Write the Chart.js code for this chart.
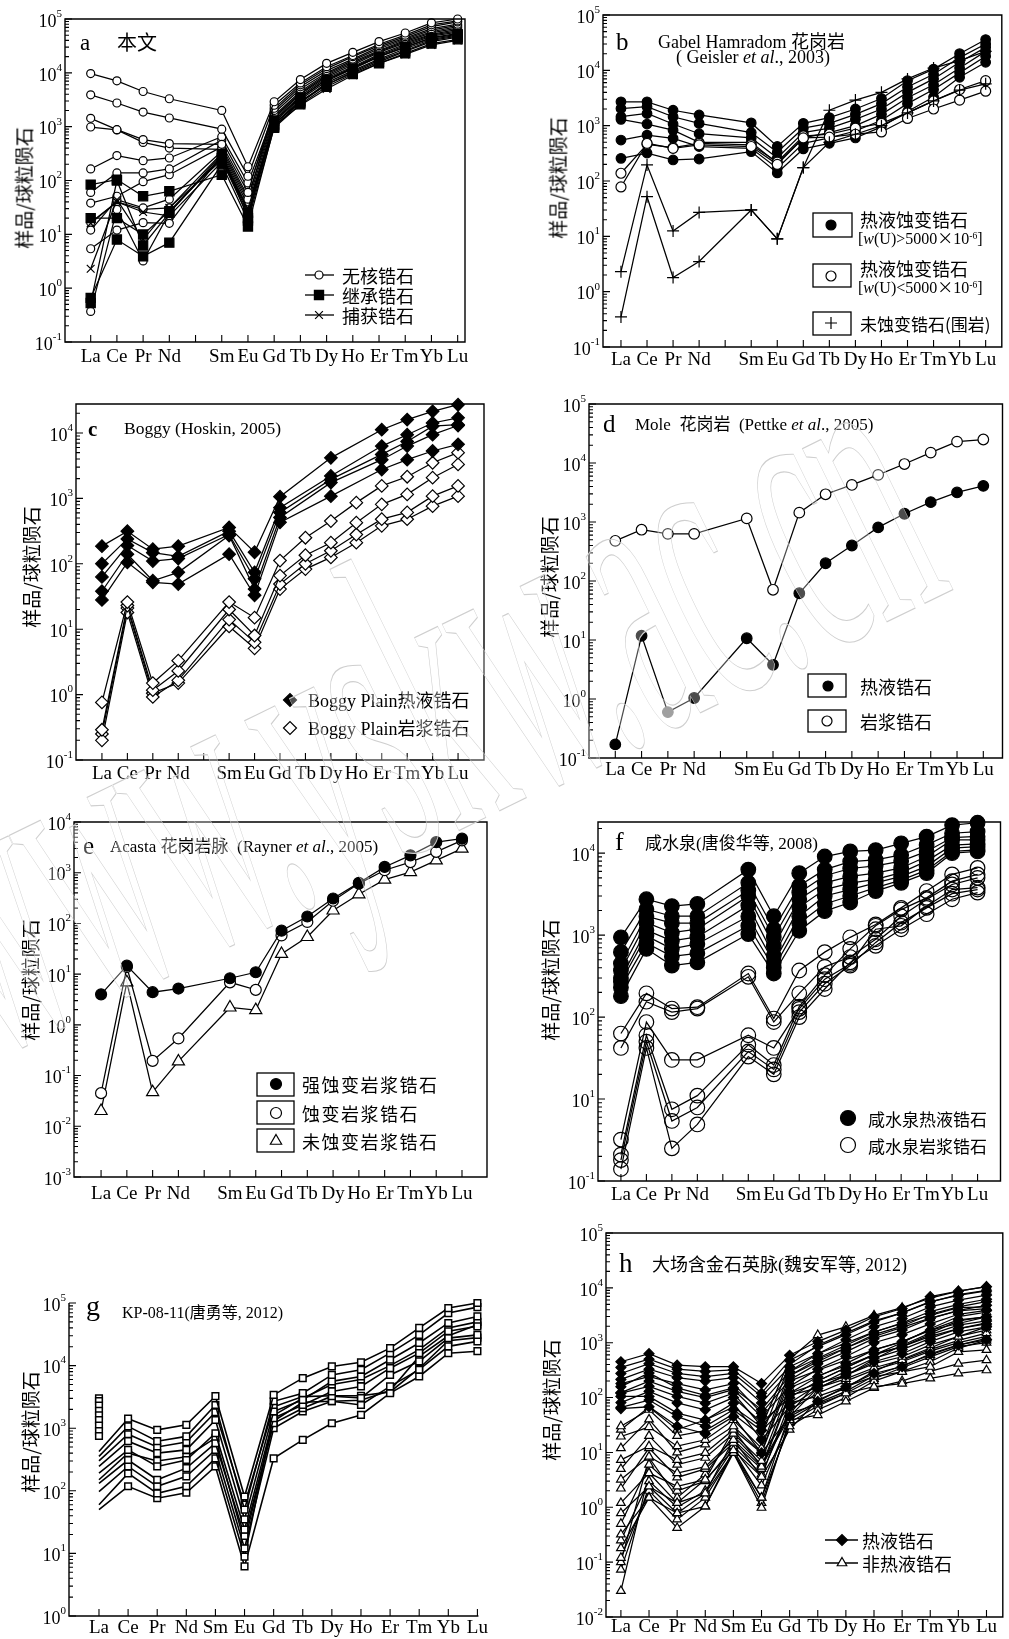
<!DOCTYPE html>
<html>
<head>
<meta charset="utf-8">
<script src="https://cdn.jsdelivr.net/npm/chart.js@4.4.1/dist/chart.umd.min.js"></script>
<style>
body{margin:0;background:#fff;width:1009px;height:1639px;position:relative;overflow:hidden;font-family:"Liberation Serif","Noto Sans CJK SC",serif;color:#000}
canvas{position:absolute}
.t{position:absolute;white-space:nowrap;line-height:1;transform:translateY(-50%)}
.cn{font-family:"Noto Sans CJK SC",sans-serif}
.yt{position:absolute;white-space:nowrap;line-height:1;font-family:"Noto Sans CJK SC",sans-serif;font-size:19px;transform:translate(-50%,-50%) rotate(-90deg)}
sup{font-size:60%;vertical-align:0.5em;line-height:0}
#wm{position:absolute;left:0;top:706px;font-size:420px;line-height:1;font-family:"Liberation Serif";white-space:nowrap;color:rgba(255,255,255,0.3);-webkit-text-stroke:1.2px #cfcfcf;transform-origin:0 374px;transform:rotate(-26deg) scaleX(0.38);pointer-events:none}
</style>
</head>
<body>

<!-- panel titles -->
<div class="t" style="left:80px;top:42px;font-size:23px">a</div>
<div class="t cn" style="left:117px;top:42px;font-size:20px">本文</div>
<div class="t" style="left:616px;top:41px;font-size:25px">b</div>
<div class="t" style="left:658px;top:41px;font-size:18px">Gabel Hamradom <span class="cn">花岗岩</span></div>
<div class="t" style="left:676px;top:57px;font-size:18px">( Geisler <i>et al</i>., 2003)</div>
<div class="t" style="left:88px;top:429px;font-size:21px;font-weight:bold">c</div>
<div class="t" style="left:124px;top:429px;font-size:17.5px">Boggy (Hoskin, 2005)</div>
<div class="t" style="left:603px;top:423px;font-size:25px">d</div>
<div class="t" style="left:635px;top:423px;font-size:17px">Mole&nbsp; <span class="cn">花岗岩</span>&nbsp; (Pettke <i>et al</i>., 2005)</div>
<div class="t" style="left:83px;top:845px;font-size:25px">e</div>
<div class="t" style="left:110px;top:845px;font-size:17px">Acasta <span class="cn">花岗岩脉</span>&nbsp; (Rayner <i>et al</i>., 2005)</div>
<div class="t" style="left:615px;top:842px;font-size:26px">f</div>
<div class="t" style="left:645px;top:842px;font-size:17px"><span class="cn">咸水泉</span>(<span class="cn">唐俊华等</span>, 2008)</div>
<div class="t" style="left:86px;top:1306px;font-size:28px">g</div>
<div class="t" style="left:122px;top:1312px;font-size:16px">KP-08-11(<span class="cn">唐勇等</span>, 2012)</div>
<div class="t" style="left:619px;top:1263px;font-size:27px">h</div>
<div class="t" style="left:652px;top:1264px;font-size:18px"><span class="cn">大场含金石英脉</span>(<span class="cn">魏安军等</span>, 2012)</div>

<!-- y axis titles -->
<div class="yt" style="left:23px;top:188px">样品/球粒陨石</div>
<div class="yt" style="left:557px;top:178px">样品/球粒陨石</div>
<div class="yt" style="left:30px;top:567px">样品/球粒陨石</div>
<div class="yt" style="left:548px;top:577px">样品/球粒陨石</div>
<div class="yt" style="left:29px;top:980px">样品/球粒陨石</div>
<div class="yt" style="left:549px;top:980px">样品/球粒陨石</div>
<div class="yt" style="left:29px;top:1432px">样品/球粒陨石</div>
<div class="yt" style="left:550px;top:1400px">样品/球粒陨石</div>

<!-- legend texts -->
<div class="t cn" style="left:342px;top:275px;font-size:18px">无核锆石</div>
<div class="t cn" style="left:342px;top:295px;font-size:18px">继承锆石</div>
<div class="t cn" style="left:342px;top:315px;font-size:18px">捕获锆石</div>

<div class="t cn" style="left:860px;top:219px;font-size:18px">热液蚀变锆石</div>
<div class="t" style="left:858px;top:238px;font-size:16px">[<i>w</i>(U)&gt;5000<span class="cn">×</span>10<sup>-6</sup>]</div>
<div class="t cn" style="left:860px;top:268px;font-size:18px">热液蚀变锆石</div>
<div class="t" style="left:858px;top:287px;font-size:16px">[<i>w</i>(U)&lt;5000<span class="cn">×</span>10<sup>-6</sup>]</div>
<div class="t cn" style="left:860px;top:323px;font-size:17px">未蚀变锆石(围岩)</div>

<div class="t" style="left:308px;top:700px;font-size:18px">Boggy Plain<span class="cn">热液锆石</span></div>
<div class="t" style="left:308px;top:728px;font-size:18px">Boggy Plain<span class="cn">岩浆锆石</span></div>

<div class="t cn" style="left:860px;top:686px;font-size:18px">热液锆石</div>
<div class="t cn" style="left:860px;top:721px;font-size:18px">岩浆锆石</div>

<div class="t cn" style="left:302px;top:1084px;font-size:18px;letter-spacing:1.5px">强蚀变岩浆锆石</div>
<div class="t cn" style="left:302px;top:1113px;font-size:18px;letter-spacing:1.5px">蚀变岩浆锆石</div>
<div class="t cn" style="left:302px;top:1141px;font-size:18px;letter-spacing:1.5px">未蚀变岩浆锆石</div>

<div class="t cn" style="left:868px;top:1118px;font-size:17px">咸水泉热液锆石</div>
<div class="t cn" style="left:868px;top:1145px;font-size:17px">咸水泉岩浆锆石</div>

<div class="t cn" style="left:862px;top:1540px;font-size:18px">热液锆石</div>
<div class="t cn" style="left:862px;top:1563px;font-size:18px">非热液锆石</div>

<div id="wm">www.yskw.ac.cn</div>

<script>
// element labels, '' marks the Pm gap
const ree15 = ['La', 'Ce', 'Pr', 'Nd', '', 'Sm', 'Eu', 'Gd', 'Tb', 'Dy', 'Ho', 'Er', 'Tm', 'Yb', 'Lu'];
const ree14 = ['La', 'Ce', 'Pr', 'Nd', 'Sm', 'Eu', 'Gd', 'Tb', 'Dy', 'Ho', 'Er', 'Tm', 'Yb', 'Lu'];

// y tick values and exponent labels
const yTicksA = [0.1, 1, 10, 100, 1000, 10000, 100000];
const yExpA = ['-1', '0', '1', '2', '3', '4', '5'];
const yTicksC = [0.1, 1, 10, 100, 1000, 10000];
const yExpC = ['-1', '0', '1', '2', '3', '4'];
const yTicksE = [0.001, 0.01, 0.1, 1, 10, 100, 1000, 10000];
const yExpE = ['-3', '-2', '-1', '0', '1', '2', '3', '4'];
const yTicksF = [1, 10, 100, 1000, 10000];
const yExpF = ['-1', '1', '2', '3', '4'];
const yTicksG = [1, 10, 100, 1000, 10000, 100000];
const yExpG = ['0', '1', '2', '3', '4', '5'];
const yTicksH = [0.01, 0.1, 1, 10, 100, 1000, 10000, 100000];
const yExpH = ['-2', '-1', '0', '1', '2', '3', '4', '5'];

// a - 本文
const aCoreless = [
    [9700, 7100, 4500, 3300, null, 2000, 180, 2900, 7500, 15000, 24000, 38000, 55000, 85000, 100000],
    [3900, 2750, 1870, 1450, null, 900, 120, 2500, 6500, 13000, 21000, 34000, 50000, 78000, 92000],
    [1430, 880, 575, 485, null, 470, 60, 2200, 6000, 12000, 20000, 32000, 47000, 72000, 88000],
    [985, 870, 510, 400, null, 380, 45, 2000, 5500, 11000, 18000, 30000, 44000, 66000, 80000],
    [164, 290, 233, 262, null, 650, 90, 1800, 5000, 10000, 17000, 28000, 42000, 62000, 76000],
    [60, 138, 138, 164, null, 560, 70, 1600, 4500, 9500, 16000, 26000, 40000, 58000, 72000],
    [38, 51, 95, 128, null, 420, 50, 1500, 4200, 9000, 15000, 25000, 38000, 55000, 68000],
    [12, 44, 31, 45, null, 350, 40, 1400, 4000, 8500, 14000, 24000, 36000, 52000, 64000],
    [5.4, 12, 16.5, 16, null, 300, 30, 1300, 3700, 8000, 13000, 22000, 34000, 50000, 60000],
    [0.37, 29, 3.2, 25, null, 280, 28, 1200, 3400, 7500, 12500, 21000, 32000, 48000, 57000],
    [16.6, 40, 29, 31, null, 320, 35, 1100, 3200, 7000, 12000, 20000, 30000, 45000, 54000]
];
const aInherited = [
    [84, 104, 51, 63, null, 128, 14, 1000, 2800, 6500, 11000, 18000, 28000, 42000, 50000],
    [20, 20, 9.9, 27, null, 260, 25, 1100, 3000, 6000, 10000, 16000, 25000, 38000, 46000],
    [0.66, 8, 3.9, 7, null, 200, 18, 950, 2600, 5500, 9500, 15000, 23000, 35000, 42000],
    [0.53, 100, 6.2, 25, null, 310, 20, 1300, 3500, 7500, 12000, 20000, 30000, 44000, 52000]
];
const aCaptured = [
    [2.3, 44, 8, 31, null, 240, 22, 1050, 2500, 5000, 9000, 15000, 22000, 33000, 40000],
    [16, 40, 26, 22, null, 220, 30, 1150, 2800, 6000, 10500, 17000, 26000, 40000, 48000]
];

// b - Gabel Hamradom
const bHighU = [
    [2700, 2700, 1900, 1560, null, 1120, 420, 1100, 1400, 2000, 3100, 6500, 10500, 20000, 36000],
    [2040, 2200, 1450, 1100, null, 750, 330, 900, 1100, 1600, 2500, 5000, 8500, 17000, 30000],
    [1450, 1660, 1070, 715, null, 600, 260, 750, 900, 1300, 2000, 4000, 7000, 14000, 26000],
    [1300, 1070, 830, 500, null, 500, 210, 600, 750, 1000, 1600, 3200, 5500, 11000, 22000],
    [550, 675, 590, 420, null, 390, 170, 480, 600, 800, 1250, 2500, 4500, 9000, 18000],
    [257, 320, 240, 250, null, 340, 140, 380, 480, 600, 950, 1800, 3300, 7500, 14000]
];
const bLowU = [
    [78, 480, 390, 450, null, 420, 200, 600, 620, 700, 770, 1350, 2000, 2900, 4200],
    [138, 460, 400, 480, null, 450, 220, 650, 700, 900, 1100, 1700, 2800, 4500, 6500]
];
const bUnaltered = [
    [2.3, 195, 12.5, 27, null, 30, 9, 175, 1900, 2900, 4000, 7000, 11000, 15000, 22000],
    [0.35, 52, 1.8, 3.5, null, 30, 9, 175, 500, 700, 1000, 1700, 2800, 4400, 5700]
];

// c - Boggy Plain (no Tb, Ho for hydrothermal)
const cHydro = [
    [186, 315, 167, 186, null, 360, 150, 1060, null, 4160, null, 11200, 16000, 21400, 27000],
    [100, 240, 148, 130, null, 315, 74, 720, null, 2200, null, 6300, 9400, 14200, 17000],
    [63, 190, 110, 120, null, 280, 59, 610, null, 1950, null, 4700, 7400, 12700, 13400],
    [38, 140, 55, 74, null, 270, 41, 510, null, 1740, null, 3900, 6300, 9400, 13000],
    [28, 105, 52, 49, null, 140, 33, 430, null, 1080, null, 2760, 3900, 5300, 6700]
];
const cMagma = [
    [0.76, 26, 1.5, 3.3, null, 26, 15, 112, 250, 450, 860, 1550, 2140, 3500, 5000],
    [0.29, 23, 1.17, 2.3, null, 20, 8, 66, 135, 210, 425, 810, 1150, 2070, 3300],
    [0.2, 18, 0.92, 1.65, null, 14, 6.3, 49, 100, 158, 280, 480, 610, 1080, 1550],
    [0.25, 21, 1.05, 1.5, null, 11, 5.1, 41, 83, 125, 210, 380, 480, 760, 1080]
];

// d - Mole granite
const dHydro = [0.17, 11.8, 0.6, 1.04, null, 10.7, 3.8, 62, 200, 400, 810, 1380, 2170, 3170, 4100];
const dMagma = [480, 740, 630, 630, null, 1150, 71, 1440, 2950, 4250, 6300, 9600, 15000, 23000, 25000];

// e - Acasta
const eStrong = [4.0, 14.7, 4.4, 5.2, null, 8.3, 10.9, 72, 137, 310, 630, 1300, 2200, 4000, 4700];
const eAltered = [0.045, 13.8, 0.195, 0.54, null, 6.9, 4.9, 58, 107, 280, 610, 1120, 1620, 2580, 4350];
const eFresh = [0.02, 6.9, 0.047, 0.19, null, 2.2, 1.95, 25, 54, 180, 375, 730, 1030, 1750, 2980];

// f - 咸水泉
const fHydro = [
    [940, 2740, 2260, 2400, null, 6300, 1700, 5700, 9100, 10500, 10900, 13200, 15900, 22000, 23500],
    [620, 2070, 1700, 1700, null, 4350, 1180, 4000, 6300, 7900, 8300, 9500, 12600, 17500, 18300],
    [450, 1700, 1400, 1400, null, 3500, 950, 3300, 5300, 6500, 7000, 8000, 10500, 15500, 16000],
    [370, 1420, 1070, 1180, null, 3000, 740, 2740, 4350, 5200, 5700, 6600, 9100, 14500, 14500],
    [300, 1150, 850, 950, null, 2300, 560, 2200, 3600, 4300, 4800, 5800, 8000, 12500, 13000],
    [270, 980, 680, 780, null, 1700, 465, 1700, 3000, 3600, 4350, 5200, 6900, 11500, 12000],
    [230, 800, 550, 600, null, 1300, 400, 1400, 2400, 3000, 3800, 4700, 6200, 10500, 11000],
    [180, 680, 425, 465, null, 1030, 340, 1130, 1960, 2500, 3450, 4350, 5700, 10000, 10500]
];
const fMagma = [
    [63, 195, 127, 132, null, 340, 96, 370, 620, 940, 1350, 2150, 3450, 5500, 6600],
    [42, 154, 115, 127, null, 310, 87, 195, 410, 540, 890, 1700, 2740, 4150, 5000],
    [3.2, 87, 30, 30, null, 60, 42, 126, 290, 445, 1180, 1300, 2250, 3600, 3800],
    [2.1, 60, 7.5, 11, null, 46, 26, 134, 325, 680, 1300, 2050, 2850, 4550, 5500],
    [1.8, 50, 5.4, 7.9, null, 38, 23, 115, 255, 425, 815, 1420, 2150, 3200, 3600],
    [1.4, 42, 2.5, 4.9, null, 33, 20, 100, 220, 465, 740, 1180, 1800, 2740, 3300]
];

// g - KP-08-11
const gSamples = [
    [425, 1420, 940, 1130, 3250, 81, 3400, 6300, 9700, 11300, 19000, 40000, 83000, 100000],
    [355, 1070, 620, 740, 2350, 50, 2690, 3630, 7100, 8600, 15800, 31000, 69000, 86000],
    [245, 620, 400, 450, 1350, 35, 1850, 2840, 5600, 6700, 12400, 23000, 48000, 61000],
    [192, 450, 245, 310, 830, 24, 1450, 2350, 3870, 4650, 9100, 15800, 35400, 42400],
    [131, 310, 150, 230, 575, 19, 1200, 2080, 3250, 3040, 7100, 11700, 27500, 31000],
    [97, 245, 118, 170, 450, 12, 1000, 1850, 2690, 2350, 4650, 8600, 20300, 24400],
    [60, 190, 91, 118, 330, 8.9, 1600, 3000, 5000, 6000, 10000, 18000, 40000, 50000],
    [50, 118, 76, 93, 245, 6.2, 330, 650, 1200, 1630, 3630, 6700, 15800, 17000],
    [300, 800, 500, 600, 1800, 60, 2200, 3200, 3300, 3300, 3800, 9000, 25000, 28000],
    [150, 400, 300, 350, 700, 15, 1300, 2600, 2700, 2800, 4000, 14000, 30000, 45000]
];
const gLaMarks = [3000, 2700, 2300, 1900, 1600, 1350, 1100, 900, 750];

// h - 大场
const hHydro = [
    [450, 630, 390, 365, 365, 180, 590, 1050, 1700, 2970, 4200, 6900, 8700, 10500],
    [355, 500, 330, 300, 320, 120, 480, 850, 1400, 2400, 3500, 5600, 7300, 8800],
    [275, 415, 275, 240, 275, 105, 365, 630, 1130, 1950, 2760, 4500, 6000, 7400],
    [214, 330, 230, 200, 230, 80, 300, 520, 900, 1550, 2300, 3700, 5000, 6200],
    [180, 240, 180, 138, 180, 52, 210, 415, 680, 1200, 1700, 2760, 3900, 4800],
    [158, 280, 150, 110, 150, 60, 250, 450, 800, 1400, 2000, 3300, 4500, 5600],
    [123, 200, 130, 100, 140, 45, 160, 330, 560, 1000, 1400, 2200, 3300, 3900],
    [120, 160, 105, 79, 120, 30, 120, 240, 415, 740, 1050, 1700, 2600, 2970],
    [105, 105, 52, 39, 79, 17, 68, 148, 257, 450, 630, 1050, 1580, 1950],
    [81, 130, 80, 60, 100, 35, 100, 200, 350, 620, 850, 1400, 2100, 2500],
    [66, 90, 45, 30, 60, 25, 80, 170, 300, 520, 750, 1200, 1800, 2200],
    [63, 68, 30, 22, 45, 9.8, 45, 85, 158, 275, 365, 630, 910, 1130]
];
const hOther = [
    [30, 60, 20, 25, 50, 20, 400, 900, 1500, 2500, 3500, 5500, 7500, 9000],
    [26, 67, 26, 39, 67, 29, 500, 1380, 1950, 3150, 4350, 6500, 8700, 10500],
    [19.5, 29, 13, 17, 39, 12, 300, 630, 980, 1580, 2240, 3150, 4350, 4500],
    [12, 40, 10, 14, 30, 10, 250, 500, 800, 1300, 1900, 2800, 3800, 4200],
    [7.3, 13, 7.3, 9.8, 26, 9.8, 200, 315, 480, 740, 1050, 1700, 2240, 2970],
    [5, 20, 6, 8, 22, 7, 150, 250, 380, 600, 850, 1300, 1800, 2300],
    [3.2, 8.4, 4.2, 5.5, 17, 5.5, 120, 180, 257, 415, 555, 910, 1290, 1950],
    [2.2, 12, 3.5, 5, 15, 5, 110, 150, 220, 350, 480, 750, 1100, 1500],
    [1.2, 4.2, 2.4, 3.2, 11, 3.6, 80, 105, 158, 240, 295, 365, 680, 740],
    [0.78, 2.4, 1.2, 1.8, 9.8, 1.5, 52, 75, 120, 158, 180, 224, 275, 315],
    [0.5, 6, 2, 3, 13, 4, 60, 120, 200, 320, 450, 700, 1000, 1300],
    [0.32, 1.5, 0.78, 1.04, 9.8, 0.98, 39, 48, 85, 150, 200, 300, 415, 480],
    [0.25, 3, 1.0, 2, 12, 2.5, 40, 80, 130, 250, 380, 600, 900, 1200],
    [0.18, 1.5, 0.42, 1.04, 11, 1.5, 30, 60, 100, 200, 300, 450, 800, 1100],
    [0.12, 2, 0.6, 1.5, 10, 1.2, 35, 70, 120, 220, 350, 550, 850, 1000],
    [0.1, 8, 1.5, 4, 20, 6, 50, 200, 350, 600, 1000, 1800, 3000, 3600],
    [0.073, 2.4, 0.78, 1.8, 17, 3.6, 26, 90, 150, 300, 500, 800, 1300, 1700],
    [0.03, 4.2, 1.2, 3.2, 26, 5.5, 45, 150, 250, 500, 900, 1500, 2500, 3000]
];

function series(rows, style, r, filled, extra) {
    return rows.map(function (vals) {
        return Object.assign({
            data: vals.map(function (v, i) { return {x: i, y: v}; }).filter(function (p) { return p.y != null; }),
            borderColor: '#000',
            borderWidth: 1.25,
            pointStyle: style,
            pointRadius: r,
            pointBackgroundColor: filled ? '#000' : '#fff',
            pointBorderColor: '#000',
            pointBorderWidth: 1.2,
            tension: 0,
            fill: false,
            clip: false
        }, extra || {});
    });
}

// rect = canvas [x, y, w, h], box = plot area [left, top, right, bottom], page pixels
var panels = [
    {id: 'a', rect: [0, 0, 505, 375], box: [65, 19, 465, 342], xr: [-0.98, 14.28], yr: [0.1, 1e5],
        cats: ree15, yv: yTicksA, ye: yExpA, frame: true, lab: 15,
        syms: [{x: 319, y: 275, s: 'circle', r: 4, f: false, line: [305, 334]},
            {x: 319, y: 295, s: 'rect', r: 6.5, f: true, line: [305, 334]},
            {x: 319, y: 315, s: 'crossRot', r: 5.5, line: [305, 334]}],
        sets: [].concat(series(aCaptured, 'crossRot', 5.5, false),
            series(aInherited, 'rect', 6.5, true),
            series(aCoreless, 'circle', 4, false))},
    {id: 'b', rect: [505, 0, 504, 375], box: [603, 15, 1003, 347], xr: [-0.69, 14.62], yr: [0.1, 1e5],
        cats: ree15, yv: yTicksA, ye: yExpA, frame: true, lab: 13,
        syms: [{x: 831, y: 225, s: 'circle', r: 5, f: true, box: [813, 213, 852, 237]},
            {x: 831, y: 276, s: 'circle', r: 5, f: false, box: [813, 264, 851, 287]},
            {x: 831, y: 323, s: 'cross', r: 6, box: [813, 312, 851, 335]}],
        sets: [].concat(series(bUnaltered, 'cross', 6, false),
            series(bLowU, 'circle', 5, false),
            series(bHighU, 'circle', 4.8, true))},
    {id: 'c', rect: [0, 375, 505, 410], box: [76, 404, 484, 760], xr: [-1.02, 15.02], yr: [0.1, 27700],
        cats: ree15, yv: yTicksC, ye: yExpC, frame: true, lab: 14,
        syms: [{x: 290, y: 700, s: 'rectRot', r: 6.5, f: true},
            {x: 290, y: 728, s: 'rectRot', r: 6.5, f: false}],
        sets: [].concat(series(cHydro, 'rectRot', 6.3, true),
            series(cMagma, 'rectRot', 6.3, false))},
    {id: 'd', rect: [505, 375, 504, 410], box: [589, 404, 1005, 758], xr: [-1.0, 14.73], yr: [0.1, 1e5],
        cats: ree15, yv: yTicksA, ye: yExpA, frame: true, lab: 12,
        syms: [{x: 828, y: 686, s: 'circle', r: 5, f: true, box: [808, 674, 846, 697]},
            {x: 827, y: 721, s: 'circle', r: 5, f: false, box: [808, 710, 846, 732]}],
        sets: [].concat(series([dHydro], 'circle', 5.3, true, {
            pointBackgroundColor: function (c) { return c.dataIndex === 2 ? '#777' : '#000'; },
            pointBorderColor: function (c) { return c.dataIndex === 2 ? '#777' : '#000'; }
        }), series([dMagma], 'circle', 5.3, false))},
    {id: 'e', rect: [0, 785, 505, 430], box: [74, 822, 487, 1177], xr: [-1.05, 14.97], yr: [0.001, 1e4],
        cats: ree15, yv: yTicksE, ye: yExpE, frame: true, lab: 17,
        syms: [{x: 276, y: 1084, s: 'circle', r: 5.5, f: true, box: [257, 1073, 294, 1096]},
            {x: 276, y: 1113, s: 'circle', r: 5.5, f: false, box: [257, 1101, 294, 1124]},
            {x: 276, y: 1141, s: 'triangle', r: 6.5, f: false, box: [257, 1129, 294, 1152]}],
        sets: [].concat(series([eStrong], 'circle', 5.5, true),
            series([eAltered], 'circle', 5.5, false),
            series([eFresh], 'triangle', 7, false))},
    {id: 'f', rect: [505, 785, 504, 430], box: [598, 822, 1003, 1181], xr: [-0.9, 14.9], yr: [1, 24000],
        cats: ree15, yv: yTicksF, ye: yExpF, frame: true, lab: 14,
        syms: [{x: 848, y: 1118, s: 'circle', r: 7.5, f: true},
            {x: 848, y: 1145, s: 'circle', r: 7.5, f: false}],
        sets: [].concat(series(fHydro, 'circle', 7.3, true),
            series(fMagma, 'circle', 7.3, false, {pointBackgroundColor: 'rgba(255,255,255,0)'}))},
    {id: 'g', rect: [0, 1215, 505, 424], box: [69, 1303, 478, 1616], xr: [-1.03, 13.02], yr: [1, 1e5],
        cats: ree14, yv: yTicksG, ye: yExpG, frame: false, lab: 12,
        syms: [],
        sets: [].concat(series(gSamples, 'rect', 4.7, false, {
            borderWidth: 1.6,
            pointBorderWidth: 1.5,
            pointRadius: function (c) { return c.dataIndex === 0 ? 0 : 4.7; }
        }), [{
            data: gLaMarks.map(function (v) { return {x: 0, y: v}; }),
            showLine: false, pointStyle: 'rect', pointRadius: 4.7,
            pointBackgroundColor: '#fff', pointBorderColor: '#000', pointBorderWidth: 1.5, clip: false
        }])},
    {id: 'h', rect: [505, 1215, 504, 424], box: [606, 1233, 1004, 1617], xr: [-0.53, 13.58], yr: [0.01, 1e5],
        cats: ree14, yv: yTicksH, ye: yExpH, frame: true, lab: 10,
        syms: [{x: 842, y: 1540, s: 'rectRot', r: 5.5, f: true, line: [825, 858]},
            {x: 842, y: 1563, s: 'triangle', r: 5.5, f: false, line: [825, 858]}],
        sets: [].concat(series(hHydro, 'rectRot', 5, true),
            series(hOther, 'triangle', 5, false))}
];

var panelById = {};

// frame, inward ticks, tick labels and legend symbols
var axesPlugin = {
    id: 'axesPlugin',
    afterDraw: function (chart) {
        var p = panelById[chart.canvas.id];
        var ctx = chart.ctx, a = chart.chartArea, xs = chart.scales.x, ys = chart.scales.y;
        ctx.save();
        ctx.strokeStyle = '#000';
        ctx.fillStyle = '#000';
        ctx.lineWidth = 1.4;
        ctx.beginPath();
        if (p.frame) {
            ctx.rect(a.left, a.top, a.right - a.left, a.bottom - a.top);
        } else {
            ctx.moveTo(a.left, a.top);
            ctx.lineTo(a.left, a.bottom);
            ctx.lineTo(xs.getPixelForValue(p.cats.length - 1) + 1, a.bottom);
        }
        ctx.stroke();

        ctx.lineWidth = 1.1;
        ctx.beginPath();
        p.cats.forEach(function (c, i) {
            var px = xs.getPixelForValue(i);
            ctx.moveTo(px, a.bottom);
            ctx.lineTo(px, a.bottom - 7);
        });
        var e0 = Math.floor(Math.log10(p.yr[0])), e1 = Math.ceil(Math.log10(p.yr[1]));
        for (var e = e0; e <= e1; e++) {
            for (var k = 1; k < 10; k++) {
                var v = k * Math.pow(10, e);
                if (v < p.yr[0] * 0.999 || v > p.yr[1] * 1.001) continue;
                var py = ys.getPixelForValue(v);
                ctx.moveTo(a.left, py);
                ctx.lineTo(a.left + (k === 1 ? 7 : 4), py);
            }
        }
        ctx.stroke();

        ctx.textAlign = 'center';
        ctx.textBaseline = 'middle';
        ctx.font = '19px "Liberation Serif"';
        p.cats.forEach(function (c, i) {
            ctx.fillText(c, xs.getPixelForValue(i), a.bottom + p.lab);
        });
        ctx.textAlign = 'right';
        p.yv.forEach(function (v, i) {
            var py = ys.getPixelForValue(v);
            ctx.font = '11px "Liberation Serif"';
            var w = ctx.measureText(p.ye[i]).width;
            ctx.fillText(p.ye[i], a.left - 3, py - 5);
            ctx.font = '18px "Liberation Serif"';
            ctx.fillText('10', a.left - 3 - w, py + 3);
        });

        var ox = p.rect[0], oy = p.rect[1];
        p.syms.forEach(function (s) {
            ctx.lineWidth = 1.3;
            ctx.strokeStyle = '#000';
            if (s.box) {
                ctx.strokeRect(s.box[0] - ox, s.box[1] - oy, s.box[2] - s.box[0], s.box[3] - s.box[1]);
            }
            if (s.line) {
                ctx.beginPath();
                ctx.moveTo(s.line[0] - ox, s.y - oy);
                ctx.lineTo(s.line[1] - ox, s.y - oy);
                ctx.stroke();
            }
            ctx.fillStyle = s.f ? '#000' : '#fff';
            ctx.lineWidth = 1.2;
            Chart.helpers.drawPoint(ctx, {pointStyle: s.s, radius: s.r, rotation: 0, borderWidth: 1.2}, s.x - ox, s.y - oy);
        });
        ctx.restore();
    }
};

panels.forEach(function (p) {
    var cv = document.createElement('canvas');
    cv.id = 'cv-' + p.id;
    cv.width = p.rect[2];
    cv.height = p.rect[3];
    cv.style.left = p.rect[0] + 'px';
    cv.style.top = p.rect[1] + 'px';
    document.body.insertBefore(cv, document.body.firstChild);
    panelById[cv.id] = p;
    new Chart(cv, {
        type: 'line',
        data: {datasets: p.sets},
        options: {
            responsive: false,
            animation: false,
            devicePixelRatio: 1,
            events: [],
            layout: {
                padding: {
                    left: p.box[0] - p.rect[0],
                    top: p.box[1] - p.rect[1],
                    right: p.rect[0] + p.rect[2] - p.box[2],
                    bottom: p.rect[1] + p.rect[3] - p.box[3]
                }
            },
            plugins: {legend: {display: false}, tooltip: {enabled: false}, title: {display: false}},
            scales: {
                x: {type: 'linear', min: p.xr[0], max: p.xr[1], display: false},
                y: {type: 'logarithmic', min: p.yr[0], max: p.yr[1], display: false}
            }
        },
        plugins: [axesPlugin]
    });
});
</script>
</body>
</html>
